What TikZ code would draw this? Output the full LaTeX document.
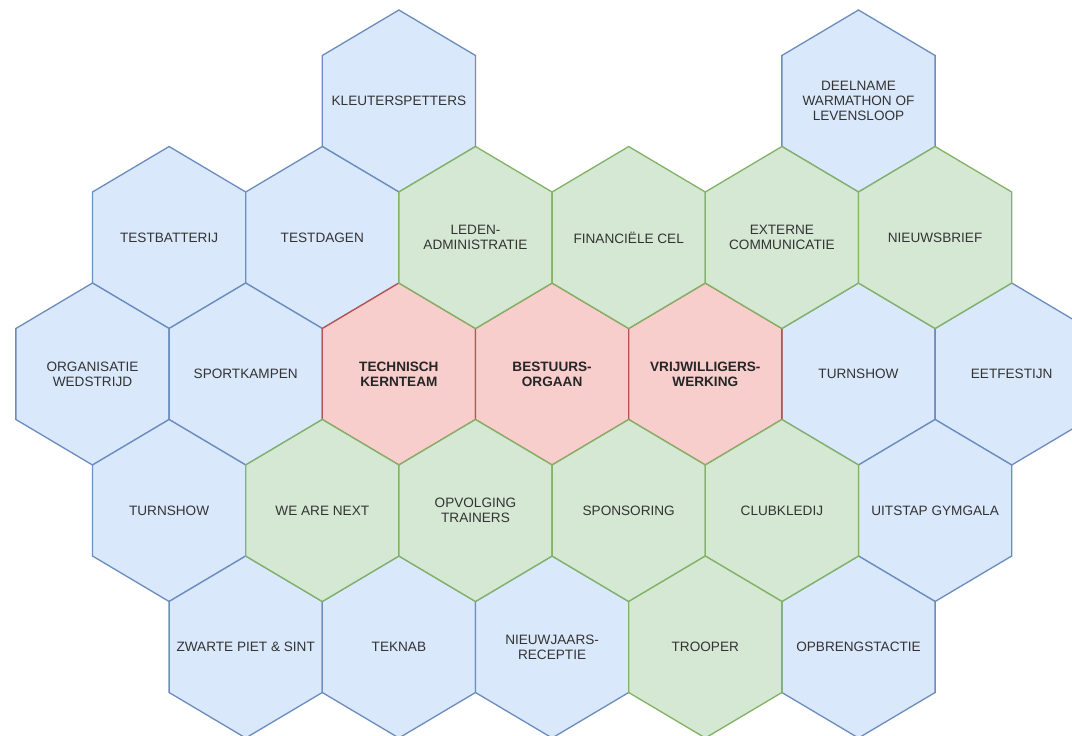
\documentclass[tikz,border=0pt]{standalone}
\usepackage{fontspec}
\setmainfont{Liberation Sans}
\definecolor{bluefill}{HTML}{DAE8FC}
\definecolor{blueline}{HTML}{6C8EBF}
\definecolor{greenfill}{HTML}{D5E8D4}
\definecolor{greenline}{HTML}{82B366}
\definecolor{redfill}{HTML}{F8CECC}
\definecolor{redline}{HTML}{B85450}
\definecolor{labelgray}{HTML}{333333}
% #1 name, #2 half-column, #3 row, #4 cell style, #5 text style, #6 label
\newcommand{\hexcell}[6]{%
  \coordinate (#1-c) at ({92.5+76.6*#2},{101+136.5*#3});
  \draw[#4] (#1-c) ++(-76.6,-45.5) -- ++(76.6,-45.5) -- ++(76.6,45.5) -- ++(0,91)
    -- ++(-76.6,45.5) -- ++(-76.6,-45.5) -- cycle;
  \node[#5] (#1) at (#1-c) {#6};
}

\begin{document}
\begin{tikzpicture}[x=0.75pt,y=-0.75pt,
  cell/.style={line width=1pt,line join=miter},
  bluecell/.style={cell,fill=bluefill,draw=blueline},
  greencell/.style={cell,fill=greenfill,draw=greenline},
  redcell/.style={cell,fill=redfill,draw=redline},
  celltext/.style={align=center,text=labelgray,font=\fontsize{10.2}{11}\selectfont},
  coretext/.style={celltext,text=black!85,font=\fontsize{10.2}{11}\selectfont\bfseries}]
  \useasboundingbox (0,0) rectangle (1072,736);
  \clip (0,0) rectangle (1072,736);
  % outer ring (blue)
  \foreach \n/\c/\r/\t in {kleuter/4/0/KLEUTERSPETTERS, deelname/10/0/{DEELNAME\\WARMATHON OF\\LEVENSLOOP},
      testbatterij/1/1/TESTBATTERIJ, testdagen/3/1/TESTDAGEN,
      organisatie/0/2/{ORGANISATIE\\WEDSTRIJD}, sportkampen/2/2/SPORTKAMPEN, turnshowA/10/2/TURNSHOW, eetfestijn/12/2/EETFESTIJN,
      turnshowB/1/3/TURNSHOW, uitstap/11/3/UITSTAP GYMGALA,
      zwartepiet/2/4/{ZWARTE PIET \& SINT}, teknab/4/4/TEKNAB, nieuwjaar/6/4/{NIEUWJAARS-\\RECEPTIE}, opbrengst/10/4/OPBRENGSTACTIE}
    \hexcell{\n}{\c}{\r}{bluecell}{celltext}{\t};
  % core (red)
  \foreach \n/\c/\r/\t in {technisch/4/2/{TECHNISCH\\KERNTEAM}, bestuur/6/2/{BESTUURS-\\ORGAAN}, vrijwilliger/8/2/{VRIJWILLIGERS-\\WERKING}}
    \hexcell{\n}{\c}{\r}{redcell}{coretext}{\t};
  % middle ring (green)
  \foreach \n/\c/\r/\t in {leden/5/1/{LEDEN-\\ADMINISTRATIE}, financien/7/1/FINANCIËLE CEL, extern/9/1/{EXTERNE\\COMMUNICATIE}, nieuwsbrief/11/1/NIEUWSBRIEF,
      wearenext/3/3/WE ARE NEXT, opvolging/5/3/{OPVOLGING\\TRAINERS}, sponsoring/7/3/SPONSORING, clubkledij/9/3/CLUBKLEDIJ,
      trooper/8/4/TROOPER}
    \hexcell{\n}{\c}{\r}{greencell}{celltext}{\t};
\end{tikzpicture}
\end{document}
